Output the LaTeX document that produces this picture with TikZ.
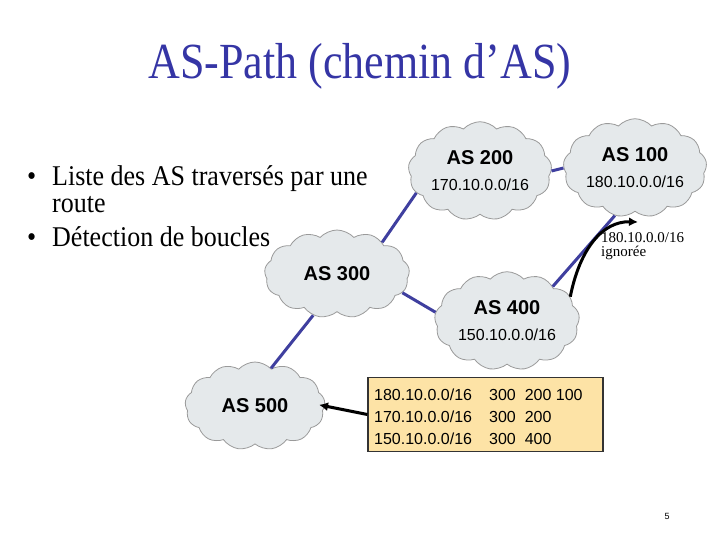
\documentclass[tikz,border=0pt]{standalone}
\usepackage{fontspec}
\setmainfont{Liberation Serif}
\newfontfamily\arial{Liberation Sans}
\usetikzlibrary{shapes.symbols,arrows.meta}
\definecolor{titleblue}{HTML}{3535A5}
\definecolor{linkblue}{HTML}{3F3F9F}
\definecolor{cloudfill}{HTML}{E5E9EB}
\definecolor{cloudedge}{HTML}{9A9A9A}
\definecolor{boxfill}{HTML}{FDE3A6}
\tikzset{
  ascloud/.style={cloud, cloud puffs=13, cloud puff arc=95, aspect=1.6,
    draw=cloudedge, fill=cloudfill, line width=0.8pt, inner sep=0pt,
    minimum width=140pt, minimum height=87pt, align=center,
    font=\arial\fontsize{16}{26}\selectfont},
  link/.style={draw=linkblue, line width=3pt},
  blackarrow/.style={draw=black, line width=3pt, -{Latex[length=9pt,width=9pt]}},
  tabtext/.style={anchor=base west, inner sep=0pt, font=\arial\fontsize{16}{19}\selectfont},
  bullettext/.style={anchor=base west, inner sep=0pt, font=\fontsize{26}{28}\selectfont, yscale=1.1, transform shape},
}
\begin{document}
\begin{tikzpicture}[x=1pt,y=-1pt]
\useasboundingbox (0,0) rectangle (720,540);
% title
\node[anchor=base, inner sep=0pt, text=titleblue, font=\fontsize{44}{48}\selectfont, yscale=1.15, transform shape] (title) at (360,79) {AS-Path (chemin d’AS)};
% bullets
\node[bullettext] (b1) at (27,186) {•};
\node[bullettext] (t1) at (52,186) {Liste des AS traversés par une};
\node[bullettext] (t1b) at (52,213) {route};
\node[bullettext] (b2) at (27,247) {•};
\node[bullettext] (t2) at (52,247) {Détection de boucles};
% clouds
\node[ascloud] (as200) at (480,171) {\textbf{\fontsize{20}{22}\selectfont AS 200}\\170.10.0.0/16};
\node[ascloud] (as100) at (635,168) {\textbf{\fontsize{20}{22}\selectfont AS 100}\\180.10.0.0/16};
\node[ascloud, minimum width=145pt, minimum height=88pt] (as300) at (337,274) {\textbf{\fontsize{20}{22}\selectfont AS 300}};
\node[ascloud, minimum width=145pt, minimum height=83pt] (as400) at (507,321) {\textbf{\fontsize{20}{22}\selectfont AS 400}\\150.10.0.0/16};
\node[ascloud, minimum height=88pt] (as500) at (255,406) {\textbf{\fontsize{20}{22}\selectfont AS 500}};
% links
\draw[link] (as200.0) -- (as100.180);
\draw[link] (as200.199) -- (as300.35);
\draw[link] (as100.247) -- (as400.37);
\draw[link] (as300.344) -- (as400.173);
\draw[link] (as300.240) -- (as500.67);
% ignored route arrow
\coordinate (tip) at (638,222);
\draw[blackarrow] (as400.21) .. controls (580,248) and (603,221) .. (tip);
\node[anchor=north west, inner sep=0pt, align=left, font=\fontsize{15}{14}\selectfont] (ign) at (601,232) {180.10.0.0/16\\ignorée};
% table box
\node[draw=black!80, line width=1.2pt, fill=boxfill, minimum width=235pt, minimum height=74pt, inner sep=0pt] (tab) at (485.5,414.5) {};
\node[tabtext] (r1a) at (374,400) {180.10.0.0/16};
\node[tabtext] (r1b) at (489,400) {300\ \ 200 100};
\node[tabtext] (r2a) at (374,422) {170.10.0.0/16};
\node[tabtext] (r2b) at (489,422) {300\ \ 200};
\node[tabtext] (r3a) at (374,444) {150.10.0.0/16};
\node[tabtext] (r3b) at (489,444) {300\ \ 400};
\draw[blackarrow, shorten >=-6pt] (tab.west) -- (as500.east);
% page number
\node[inner sep=0pt, font=\arial\fontsize{9}{10}\selectfont] (pg) at (667,516) {5};
\end{tikzpicture}
\end{document}
